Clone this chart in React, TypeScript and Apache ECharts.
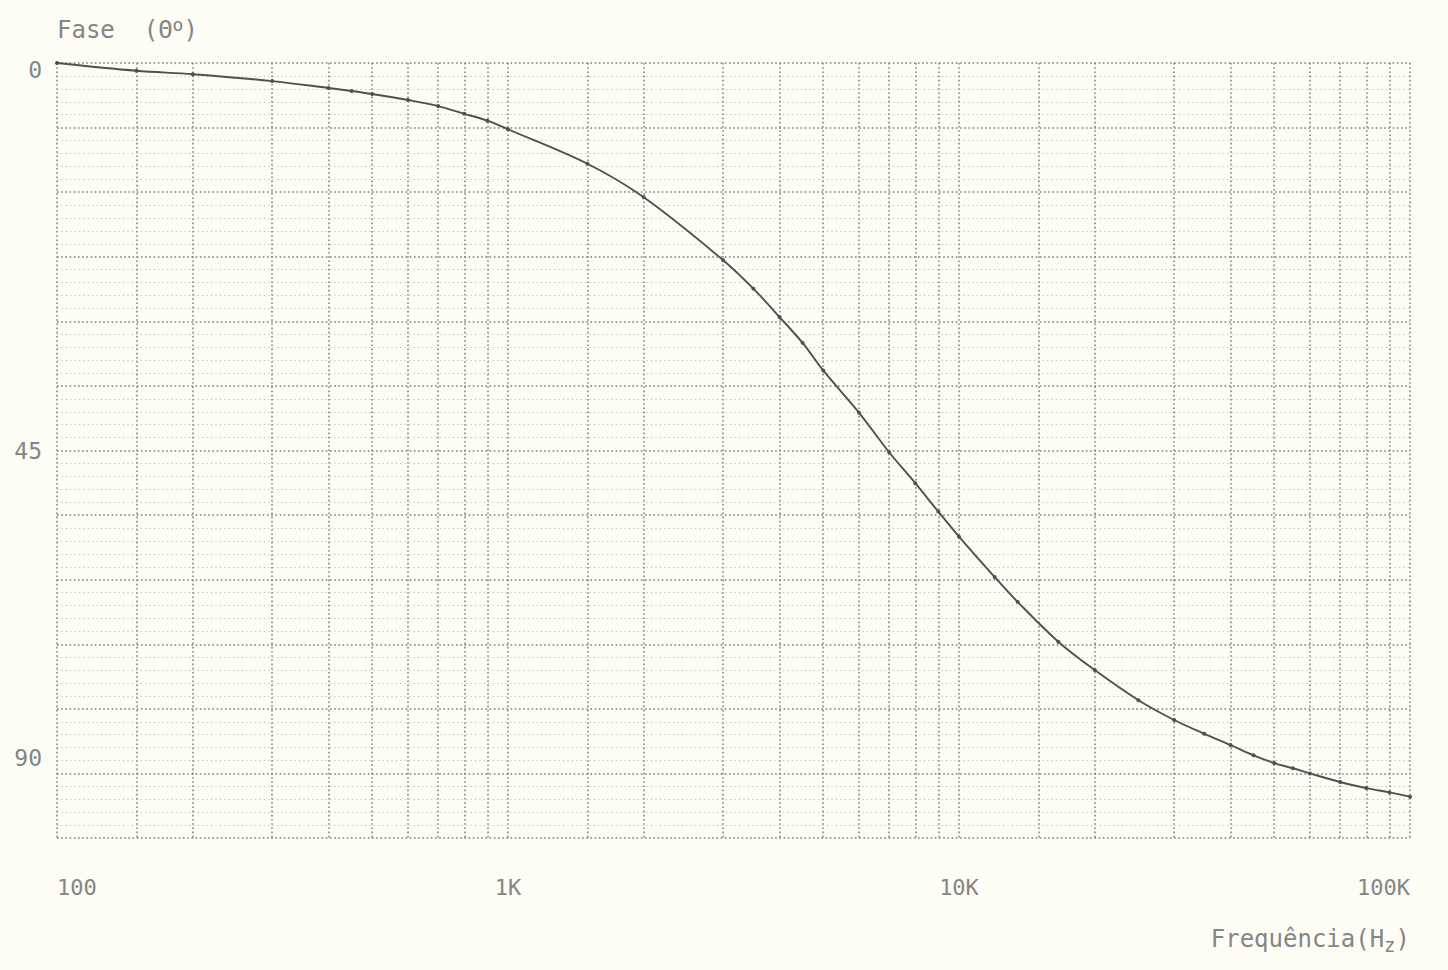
import React, { useEffect, useRef } from "react";
import * as echarts from "echarts";

// Measured points (frequency in Hz, phase in degrees)
const frequencies = [
  100, 150, 200, 300, 400, 450, 500, 600, 700, 800,
  900, 1000, 1500, 2000, 3000, 3500, 4000, 4500, 5000, 6000,
  7000, 8000, 9000, 10000, 12000, 13500, 16600, 20000, 25000, 30000,
  35000, 40000, 45000, 50000, 55000, 60000, 70000, 80000, 90000, 100000,
];
const phaseDeg = [
  0, 0.9, 1.3, 2.1, 2.9, 3.25, 3.6, 4.3, 5.0, 5.9,
  6.7, 7.7, 11.7, 15.6, 22.9, 26.2, 29.5, 32.5, 35.7, 40.6,
  45.2, 48.8, 52.1, 55.0, 59.7, 62.6, 67.2, 70.5, 74.0, 76.3,
  77.9, 79.2, 80.4, 81.3, 81.9, 82.5, 83.5, 84.2, 84.7, 85.2,
];

// Tick labels
const xLabelValues = [100, 1000, 10000, 100000];
const xLabelTexts = ["100", "1K", "10K", "100K"];
const yLabelValues = [0.8, 45, 80.7];
const yLabelTexts = ["0", "45", "90"];

// Semi-log paper rulings
const decadeStarts = [100, 1000, 10000];
const rulingMultipliers = [1, 1.5, 2, 3, 4, 5, 6, 7, 8, 9];
const gridFreqs = [
  ...decadeStarts.flatMap((d) => rulingMultipliers.map((m) => d * m)),
  100000,
];

const nearestIndex = (vals: number[], v: number, log: boolean) => {
  let best = 0;
  let bd = Infinity;
  vals.forEach((x, i) => {
    const d = log ? Math.abs(Math.log10(x) - Math.log10(v)) : Math.abs(x - v);
    if (d < bd) {
      bd = d;
      best = i;
    }
  });
  return best;
};

export default function App() {
  const ref = useRef<HTMLDivElement>(null);

  useEffect(() => {
    const chart = echarts.init(ref.current!, null, { renderer: "svg" });
    const font = "'DejaVu Sans Mono', monospace";
    const textColor = "#858585";
    const majorLine = { type: [1.6, 2.6] as any, color: "#7d7d7d", width: 1.5 };
    const minorLine = { type: [1.2, 3.2] as any, color: "#bdbdb6", width: 1.2 };

    chart.setOption({
      animation: false,
      backgroundColor: "#fdfcf5",
      grid: {
        left: 57,
        right: 38,
        top: 63,
        bottom: 132,
        containLabel: false,
        outerBoundsMode: "none",
      },
      xAxis: {
        type: "log",
        logBase: 10,
        min: 100,
        max: 100000,
        position: "bottom",
        name: "Frequência(H{sub|z})",
        nameLocation: "end",
        nameGap: 0,
        nameMoveOverlap: false,
        nameTextStyle: {
          align: "right",
          verticalAlign: "top",
          padding: [86, 0, 0, 0],
          color: textColor,
          fontFamily: font,
          fontSize: 24,
          lineHeight: 30,
          rich: {
            sub: {
              fontFamily: font,
              fontSize: 19,
              color: textColor,
              lineHeight: 6,
              verticalAlign: "bottom",
            },
          },
        },
        axisLine: { show: false, onZero: false },
        axisTick: { show: false, customValues: gridFreqs },
        axisLabel: {
          customValues: xLabelValues,
          margin: 38,
          color: textColor,
          fontFamily: font,
          fontSize: 22,
          alignMinLabel: "left",
          alignMaxLabel: "right",
          formatter: (v: number) => xLabelTexts[nearestIndex(xLabelValues, v, true)],
        },
        splitLine: { show: true, lineStyle: majorLine },
      },
      yAxis: {
        type: "value",
        inverse: true,
        min: 0,
        max: 90,
        interval: 7.5,
        name: "Fase  (Θ{sup|o})",
        nameLocation: "start",
        nameGap: 18,
        nameMoveOverlap: false,
        nameTextStyle: {
          align: "left",
          color: textColor,
          fontFamily: font,
          fontSize: 24,
          lineHeight: 30,
          rich: {
            sup: {
              fontFamily: font,
              fontSize: 18,
              color: textColor,
              lineHeight: 12,
              verticalAlign: "top",
            },
          },
        },
        axisLine: { show: false, onZero: false },
        axisTick: { show: false },
        minorTick: { show: false, splitNumber: 5 },
        axisLabel: {
          customValues: yLabelValues,
          margin: 15,
          color: textColor,
          fontFamily: font,
          fontSize: 23,
          formatter: (v: number) => yLabelTexts[nearestIndex(yLabelValues, v, false)],
        },
        splitLine: { show: true, lineStyle: majorLine },
        minorSplitLine: { show: true, lineStyle: minorLine },
      },
      series: [
        {
          type: "line",
          data: frequencies.map((f, i) => [f, phaseDeg[i]]),
          smooth: 0.35,
          symbol: "circle",
          symbolSize: 4,
          lineStyle: { color: "#505050", width: 1.9 },
          itemStyle: { color: "#505050" },
          silent: true,
        },
      ],
    });

    return () => chart.dispose();
  }, []);

  return (
    <div
      ref={ref}
      style={{ position: "fixed", left: 0, top: 0, width: 1448, height: 970 }}
    />
  );
}
